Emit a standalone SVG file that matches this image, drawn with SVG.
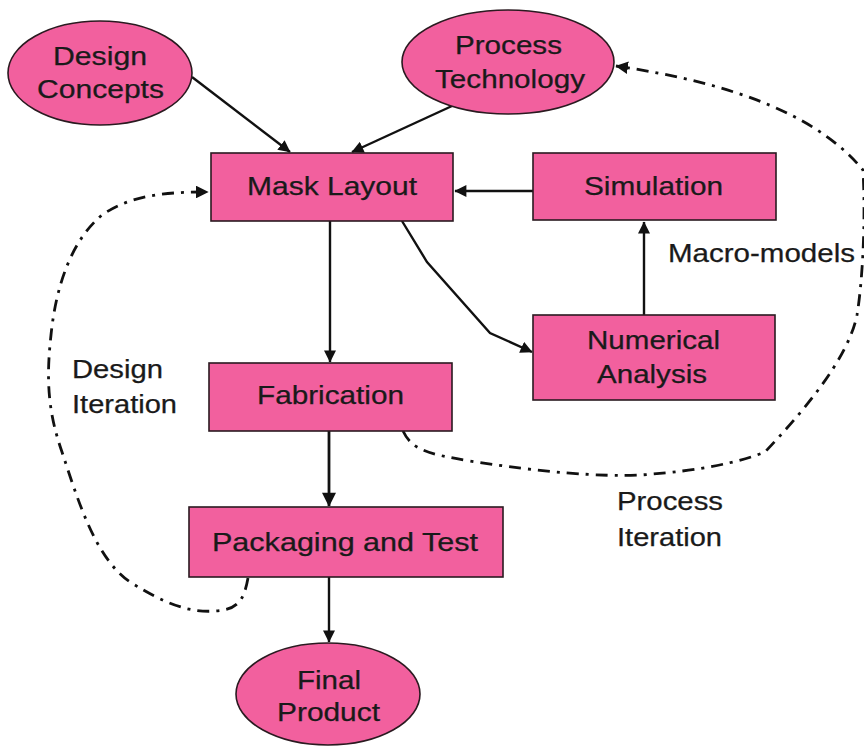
<svg xmlns="http://www.w3.org/2000/svg" width="864" height="746" viewBox="0 0 864 746">
  <style>
    .node { fill: #F2609E; stroke: #2a1a20; stroke-width: 1.6; }
    .lbl { font-family: "Liberation Sans", Arial, sans-serif; font-size: 25px; fill: #1a1a1a; stroke: #1a1a1a; stroke-width: 0.25; }
    .flow { fill: none; stroke: #111; stroke-width: 2.4; marker-end: url(#arrow); }
    .iter { fill: none; stroke: #111; stroke-width: 2.8; stroke-dasharray: 12 7 3 7; stroke-linecap: butt; }
  </style>
  <defs>
    <marker id="arrow" viewBox="0 0 10 10" refX="9.5" refY="5" markerWidth="5.2" markerHeight="5" orient="auto" markerUnits="strokeWidth">
      <path d="M0,0 L10,5 L0,10 Z" fill="#111"/>
    </marker>
    <marker id="arrowDash" viewBox="0 0 10 10" refX="9.5" refY="5" markerWidth="4.5" markerHeight="4.5" orient="auto" markerUnits="strokeWidth">
      <path d="M0,0 L10,5 L0,10 Z" fill="#111"/>
    </marker>
  </defs>
  <rect width="864" height="746" fill="#ffffff"/>

  <!-- connectors -->
  <g id="connectors">
    <line class="flow" x1="192" y1="77" x2="290" y2="152"/>
    <line class="flow" x1="452" y1="106" x2="352" y2="152"/>
    <line class="flow" x1="330" y1="221" x2="330" y2="362"/>
    <line class="flow" x1="329" y1="431" x2="329" y2="506" style="stroke-width:2.8"/>
    <line class="flow" x1="329" y1="577" x2="329" y2="642"/>
    <line class="flow" x1="533" y1="191" x2="455" y2="191"/>
    <line class="flow" x1="644" y1="315" x2="644" y2="222"/>
    <polyline class="flow" points="402,221 427,262 490,333 532,352"/>
    <!-- design iteration loop -->
    <path class="iter" marker-end="url(#arrowDash)" d="M248,578 C244,600 238,610 215,611 C190,613 165,604 130,582 C95,558 78,500 62,452 C48,412 46,380 51,335 C56,285 72,240 102,215 C132,194 170,192 208,192"/>
    <!-- process iteration loop -->
    <path class="iter" marker-end="url(#arrowDash)" d="M403,431 C412,450 428,454 470,461 C540,472 600,477 640,475 C700,471 740,462 765,452 C800,415 848,360 857,315 C862,285 866,225 863,170 C820,118 740,84 616,66"/>
  </g>

  <g id="design-concepts">
    <ellipse class="node" cx="100" cy="73" rx="92" ry="52"/>
    <text class="lbl" x="53" y="65" textLength="94" lengthAdjust="spacingAndGlyphs">Design</text>
    <text class="lbl" x="37" y="98" textLength="127" lengthAdjust="spacingAndGlyphs">Concepts</text>
  </g>

  <g id="process-technology">
    <ellipse class="node" cx="508" cy="62" rx="106" ry="52"/>
    <text class="lbl" x="455" y="54" textLength="107" lengthAdjust="spacingAndGlyphs">Process</text>
    <text class="lbl" x="435" y="88" textLength="150" lengthAdjust="spacingAndGlyphs">Technology</text>
  </g>

  <g id="mask-layout">
    <rect class="node" x="211" y="153" width="242" height="68"/>
    <text class="lbl" x="247" y="195" textLength="170" lengthAdjust="spacingAndGlyphs">Mask Layout</text>
  </g>

  <g id="simulation">
    <rect class="node" x="533" y="153" width="243" height="67"/>
    <text class="lbl" x="584" y="195" textLength="139" lengthAdjust="spacingAndGlyphs">Simulation</text>
  </g>

  <g id="numerical-analysis">
    <rect class="node" x="533" y="315" width="242" height="85"/>
    <text class="lbl" x="587" y="349" textLength="133" lengthAdjust="spacingAndGlyphs">Numerical</text>
    <text class="lbl" x="597" y="383" textLength="110" lengthAdjust="spacingAndGlyphs">Analysis</text>
  </g>

  <g id="fabrication">
    <rect class="node" x="209" y="363" width="243" height="68"/>
    <text class="lbl" x="257" y="404" textLength="147" lengthAdjust="spacingAndGlyphs">Fabrication</text>
  </g>

  <g id="packaging-test">
    <rect class="node" x="189" y="507" width="314" height="70"/>
    <text class="lbl" x="212" y="551" textLength="266" lengthAdjust="spacingAndGlyphs">Packaging and Test</text>
  </g>

  <g id="final-product">
    <ellipse class="node" cx="328" cy="694" rx="92" ry="51"/>
    <text class="lbl" x="297" y="689" textLength="64" lengthAdjust="spacingAndGlyphs">Final</text>
    <text class="lbl" x="277" y="721" textLength="103" lengthAdjust="spacingAndGlyphs">Product</text>
  </g>

  <g id="labels">
    <text class="lbl" x="668" y="262" textLength="187" lengthAdjust="spacingAndGlyphs">Macro-models</text>
    <text class="lbl" x="72" y="378" textLength="91" lengthAdjust="spacingAndGlyphs">Design</text>
    <text class="lbl" x="72" y="413" textLength="105" lengthAdjust="spacingAndGlyphs">Iteration</text>
    <text class="lbl" x="617" y="510" textLength="106" lengthAdjust="spacingAndGlyphs">Process</text>
    <text class="lbl" x="617" y="546" textLength="105" lengthAdjust="spacingAndGlyphs">Iteration</text>
  </g>
</svg>
